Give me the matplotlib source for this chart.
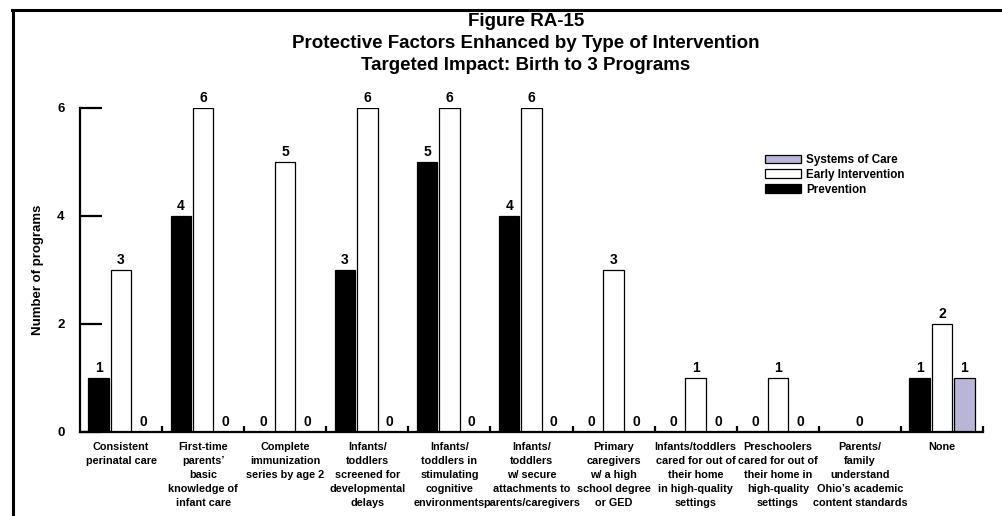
import matplotlib
matplotlib.use("Agg")
import matplotlib.pyplot as plt
from matplotlib.lines import Line2D
import numpy as np

plt.rcParams['font.family'] = ['Liberation Sans', 'DejaVu Sans']
plt.rcParams['font.weight'] = 'bold'

categories = [
    "Consistent\nperinatal care",
    "First-time\nparents’\nbasic\nknowledge of\ninfant care",
    "Complete\nimmunization\nseries by age 2",
    "Infants/\ntoddlers\nscreened for\ndevelopmental\ndelays",
    "Infants/\ntoddlers in\nstimulating\ncognitive\nenvironments",
    "Infants/\ntoddlers\nw/ secure\nattachments to\nparents/caregivers",
    "Primary\ncaregivers\nw/ a high\nschool degree\nor GED",
    "Infants/toddlers\ncared for out of\ntheir home\nin high-quality\nsettings",
    "Preschoolers\ncared for out of\ntheir home in\nhigh-quality\nsettings",
    "Parents/\nfamily\nunderstand\nOhio’s academic\ncontent standards",
    "None",
]
prevention = [1, 4, 0, 3, 5, 4, 0, 0, 0, None, 1]
early_intervention = [3, 6, 5, 6, 6, 6, 3, 1, 1, 0, 2]
systems_of_care = [0, 0, 0, 0, 0, 0, 0, 0, 0, None, 1]
yticks = [0, 2, 4, 6]
title_lines = ["Figure RA-15",
               "Protective Factors Enhanced by Type of Intervention",
               "Targeted Impact: Birth to 3 Programs"]

series = [
    ("Prevention", prevention, "#000000"),
    ("Early Intervention", early_intervention, "#FFFFFF"),
    ("Systems of Care", systems_of_care, "#B9B5D6"),
]

W, H = 1003, 516
fig = plt.figure(figsize=(W / 100, H / 100), dpi=100)
ax = fig.add_axes([80 / W, 1 - 432 / H, (983 - 80) / W, (432 - 108) / H])

x = np.arange(len(categories))
bw = 0.25
offsets = [-0.272, 0.0, 0.272]
handles = []
for (name, vals, col), off in zip(series, offsets):
    heights = [0 if v is None else v for v in vals]
    bars = ax.bar(x + off, heights, width=bw, color=col, edgecolor='black',
                  linewidth=0.9, label=name, zorder=2)
    labels = ['' if v is None else str(v) for v in vals]
    ax.bar_label(bars, labels=labels, padding=2, fontsize=10,
                 fontweight='bold', clip_on=False)
    handles.append(bars)

ax.set_xlim(-0.5, len(categories) - 0.5)
ax.set_ylim(0, 6)
ax.set_yticks(yticks)
ax.set_yticklabels([str(t) for t in yticks], fontsize=9.5, fontweight='bold')
ax.tick_params(axis='y', direction='in', length=16, width=1.6, pad=11)
ax.set_xticks(x)
ax.set_xticklabels(categories, fontsize=7.8, fontweight='bold')
for t in ax.get_xticklabels():
    t.set_linespacing(1.5)
ax.tick_params(axis='x', which='major', length=0, pad=7)
ax.set_xticks(np.arange(0.5, len(categories), 1.0), minor=True)
ax.tick_params(axis='x', which='minor', direction='in', length=4.5, width=1.6)

for s in ['top', 'right']:
    ax.spines[s].set_visible(False)
for s in ['left', 'bottom']:
    ax.spines[s].set_linewidth(1.6)

ax.set_ylabel("Number of programs", fontsize=9.5, fontweight='bold')
ax.yaxis.set_label_coords((44 - 80) / (983 - 80), 0.5)

leg = fig.legend(handles=handles[::-1], labels=[s[0] for s in series][::-1],
                 loc='upper left', bbox_to_anchor=(765 / W, 1 - 154 / H),
                 frameon=False, fontsize=8.4, borderpad=0, borderaxespad=0,
                 handlelength=3.1, handleheight=0.77, handletextpad=0.45,
                 labelspacing=0.24)
for t in leg.get_texts():
    t.set_fontweight('bold')

for line, yc in zip(title_lines, [22, 43, 65]):
    fig.text(526 / W, 1 - yc / H, line, ha='center', va='center',
             fontsize=13.5, fontweight='bold')

fig.add_artist(Line2D([12 / W, 1.0], [1 - 10 / H, 1 - 10 / H],
                      transform=fig.transFigure, color='black', linewidth=2.2))
fig.add_artist(Line2D([13 / W, 13 / W], [1 - 10 / H, 0.0],
                      transform=fig.transFigure, color='black', linewidth=2.2))

fig.savefig("out.png", dpi=100)
